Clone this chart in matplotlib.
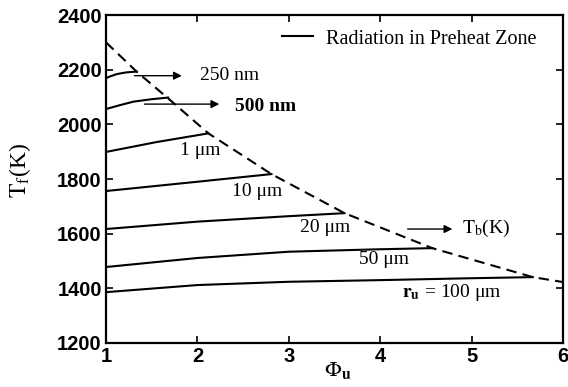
import matplotlib
matplotlib.use("Agg")
import matplotlib.pyplot as plt

plt.rcParams['mathtext.fontset'] = 'stix'

# values (phi_u, T_f in K)
phi_250nm = [1.0, 1.05, 1.12, 1.22, 1.335]
T_250nm = [2169, 2176, 2184, 2190, 2193]
phi_500nm = [1.0, 1.15, 1.30, 1.50, 1.68]
T_500nm = [2056, 2070, 2083, 2092, 2098]
phi_1um = [1.0, 1.55, 2.12]
T_1um = [1899, 1935, 1967]
phi_10um = [1.0, 2.0, 2.81]
T_10um = [1756, 1790, 1818]
phi_20um = [1.0, 2.0, 3.0, 3.61]
T_20um = [1617, 1644, 1664, 1675]
phi_50um = [1.0, 2.0, 3.0, 4.0, 4.57]
T_50um = [1478, 1511, 1534, 1543, 1547]
phi_100um = [1.0, 2.0, 3.0, 4.0, 5.0, 5.67]
T_100um = [1386, 1412, 1424, 1430, 1437, 1441]

phi_Tb = [1.0, 1.335, 1.68, 2.12, 2.81, 3.61, 4.57, 5.67, 6.0]
T_Tb = [2300, 2193, 2095, 1967, 1818, 1675, 1547, 1441, 1423]

xticks = [1, 2, 3, 4, 5, 6]
yticks = [1200, 1400, 1600, 1800, 2000, 2200, 2400]

serif = 'Liberation Serif'
fs = 14

fig = plt.figure(figsize=(5.68, 3.87), dpi=100)
ax = fig.add_axes([0.1866, 0.1137, 0.8046, 0.8475])

curves = [(phi_250nm, T_250nm), (phi_500nm, T_500nm), (phi_1um, T_1um),
          (phi_10um, T_10um), (phi_20um, T_20um), (phi_50um, T_50um),
          (phi_100um, T_100um)]
for i, (p, t) in enumerate(curves):
    ax.plot(p, t, color='black', lw=1.5,
            label='Radiation in Preheat Zone' if i == 0 else None)
ax.plot(phi_Tb, T_Tb, color='black', lw=1.5, ls=(0, (5, 3)))

ax.set_xlim(1, 6)
ax.set_ylim(1200, 2400)
ax.set_xticks(xticks)
ax.set_yticks(yticks)
ax.tick_params(direction='in', length=5, width=1.2, top=True, right=True,
               labelsize=14.5, pad=3)
for lab in ax.get_xticklabels() + ax.get_yticklabels():
    lab.set_fontfamily('Liberation Sans')
    lab.set_fontweight('bold')
for s in ax.spines.values():
    s.set_linewidth(1.6)

leg = ax.legend(loc='center left', bbox_to_anchor=(0.385, 0.927),
                frameon=False, handlelength=1.55, handletextpad=0.65,
                borderpad=0, borderaxespad=0,
                prop={'family': serif, 'size': 14.5})

arrow = dict(arrowstyle='-|>', color='black', lw=1.0, mutation_scale=12)
ax.annotate('', xy=(1.86, 2178), xytext=(1.28, 2178), arrowprops=arrow)
ax.annotate('', xy=(2.27, 2074), xytext=(1.39, 2074), arrowprops=arrow)
ax.annotate('', xy=(4.82, 1617), xytext=(4.27, 1617), arrowprops=arrow)

ax.text(2.03, 2177, '250 nm', family=serif, size=fs, va='center')
ax.text(2.41, 2067, '500 nm', family=serif, size=fs, va='center',
        weight='bold')
ax.text(1.81, 1903, '1 μm', family=serif, size=fs, va='center')
ax.text(2.38, 1756, '10 μm', family=serif, size=fs, va='center')
ax.text(3.12, 1624, '20 μm', family=serif, size=fs, va='center')
ax.text(3.77, 1507, '50 μm', family=serif, size=fs, va='center')
ax.text(4.24, 1383, r'$\mathbf{r_u}$ = 100 μm', family=serif, size=fs,
        va='center')
ax.text(4.9, 1620, r'$\mathrm{T_b}$(K)', family=serif, size=fs,
        va='center')

fig.text(0.035, 0.56, r'$\mathrm{T_f}$(K)', family=serif, size=17,
         rotation=90, ha='center', va='center')
fig.text(0.595, 0.015, r'$\Phi_{\mathbf{u}}$', size=16, ha='center',
         va='bottom')

fig.savefig('out.png', dpi=100)
